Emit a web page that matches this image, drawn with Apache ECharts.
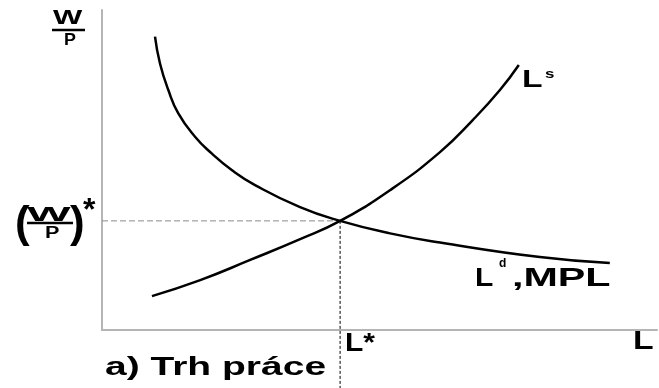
<!DOCTYPE html>
<html>
<head>
<meta charset="utf-8">
<script src="https://cdn.jsdelivr.net/npm/echarts@6/dist/echarts.min.js"></script>
<style>
  html, body { margin: 0; padding: 0; background: #fff; }
  #main { width: 659px; height: 388px; }
</style>
</head>
<body>
<div id="main"></div>
<script>
// labour demand curve (L^d, MPL)
var demandL = [9.55, 10.45, 11.95, 13.75, 16.76, 19.76, 23.37, 27.57, 35.68, 42.9, 51.9, 60.9, 78.9, 91.5];
var demandW = [91.7, 83.3, 75.0, 67.7, 60.4, 55.2, 50.0, 45.3, 38.4, 34.1, 30.2, 27.35, 22.8, 20.9];
// labour supply curve (L^s)
var supplyL = [9, 17.7, 26.7, 35.7, 42.9, 51.9, 60.9, 66.8, 71.7, 75.1];
var supplyW = [10.6, 15.6, 21.9, 28.4, 34.1, 43.7, 55.6, 65.6, 75, 82.8];
// equilibrium
var eqL = 42.9;
var eqW = 34.1;
var axisLabels = ['W', 'P', 'L*', 'L'];
var curveLabels = ['L', 's', 'L', 'd', ',MPL'];
var title = 'a) Trh práce';

var FONT = "bold {s}px 'Liberation Sans', Arial, sans-serif";
function font(s) { return FONT.replace('{s}', s); }

function pairs(xs, ys) {
  return xs.map(function (x, i) { return [x, ys[i]]; });
}

function txt(text, x, y, size, sx) {
  return {
    type: 'text', x: x, y: y, scaleX: sx || 1,
    style: { text: text, font: font(size), fill: '#000', align: 'left', verticalAlign: 'middle' }
  };
}
function bar(x1, x2, y) {
  return { type: 'line', shape: { x1: x1, y1: y, x2: x2, y2: y }, style: { stroke: '#000', lineWidth: 2.5 } };
}

var chart = echarts.init(document.getElementById('main'));

var axisCommon = {
  type: 'value', min: 0, max: 100,
  axisLine: { show: true, lineStyle: { color: '#b5b5b5', width: 2 } },
  axisTick: { show: false }, axisLabel: { show: false }, splitLine: { show: false }
};

option = {
  animation: false,
  backgroundColor: '#fff',
  grid: { left: 102, top: 10, right: 2, bottom: 58 },
  xAxis: axisCommon,
  yAxis: axisCommon,
  series: [
    {
      type: 'line', data: pairs(demandL, demandW), smooth: 0.5, showSymbol: false,
      lineStyle: { color: '#000', width: 2.5 }
    },
    {
      type: 'line', data: pairs(supplyL, supplyW), smooth: 0.5, showSymbol: false,
      lineStyle: { color: '#000', width: 2.5 }
    },
    {
      type: 'line', data: [[0, eqW], [eqL, eqW]], showSymbol: false, z: 1,
      lineStyle: { color: '#8a8a8a', width: 1, type: [6, 3] }
    },
    {
      type: 'line', data: [[eqL, eqW], [eqL, -18.5]], showSymbol: false, clip: false, z: 1,
      lineStyle: { color: '#000', width: 1, type: [3, 2] }
    }
  ],
  graphic: [
    // W/P on the y axis
    txt(axisLabels[0], 53, 18, 20, 1.55),
    bar(52, 85, 30),
    txt(axisLabels[1], 64, 40.5, 17, 1.05),
    // (W/P)*
    txt('(', 15, 225, 44),
    txt(axisLabels[0], 27, 215.5, 21, 2.2),
    bar(27, 73, 223),
    txt(axisLabels[1], 45, 233.5, 16, 1.35),
    txt(')', 70, 225, 44),
    txt('*', 83, 211, 32),
    // x axis
    txt(axisLabels[2], 345, 344, 25, 1.2),
    txt(axisLabels[3], 633, 342, 25, 1.35),
    txt(title, 105, 368, 25, 1.56),
    // curve labels
    txt(curveLabels[0], 522, 80.5, 24, 1.4),
    txt(curveLabels[1], 545, 74.5, 13, 1.3),
    txt(curveLabels[2], 475, 279, 25, 1.2),
    txt(curveLabels[3], 499, 263.5, 12),
    txt(curveLabels[4], 512, 279, 25, 1.65)
  ]
};

chart.setOption(option);
</script>
</body>
</html>
